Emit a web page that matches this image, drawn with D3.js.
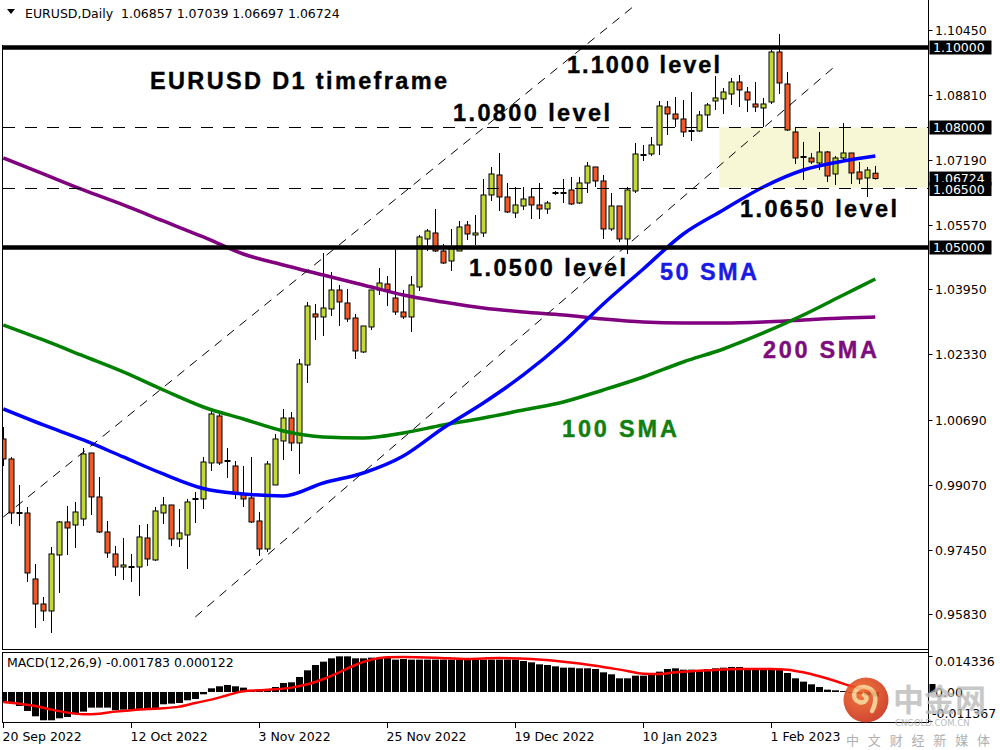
<!DOCTYPE html>
<html>
<head>
  <meta charset="utf-8">
  <script src="https://d3js.org/d3.v7.min.js"></script>
  <style>
    body { margin: 0; background: #fff; }
    svg { display: block; }
  </style>
</head>
<body>
  <div id="chart"></div>
</body>
</html>

<script>
  // ---- data (20 Sep 2022 .. 17 Feb 2023) ----
  var open = [1.00213,0.99713,0.98375,0.98363,0.96713,0.96088,0.95913,0.97313,0.98138,0.98063,
    0.98213,0.99863,0.98763,0.97888,0.97338,0.97013,0.97013,0.97013,0.97738,0.97188,
    0.98363,0.98563,0.97713,0.97813,0.98713,0.98713,0.99613,1.00788,0.99663,0.99538,
    0.98838,0.98738,0.98163,0.97463,0.99063,1.00163,1.00738,1.00113,1.02063,1.03338,
    1.03263,1.03463,1.03938,1.03613,1.03238,1.02388,1.03013,1.03938,1.04088,1.03738,
    1.03388,1.03263,1.04013,1.05213,1.05363,1.04913,1.04663,1.04913,1.05563,1.05313,
    1.05363,1.06313,1.06813,1.06263,1.05863,1.06038,1.06263,1.06063,1.05963,1.06363,
    1.06363,1.06438,1.06113,1.06613,1.07013,1.06663,1.05463,1.06038,1.05213,1.06413,
    1.07313,1.07338,1.07563,1.08513,1.08338,1.08213,1.07913,1.07913,1.08313,1.08663,
    1.08713,1.08838,1.09138,1.08888,1.08588,1.08488,1.08638,1.09888,1.09088,1.07888,
    1.07263,1.07238,1.07113,1.07388,1.06838,1.07238,1.07363,1.06888,1.06738,1.06857];
  var high = [1.00513,0.99763,0.99063,0.98513,0.97088,0.96263,0.97513,0.98163,0.98538,0.98638,
    0.99988,0.99863,0.99263,0.98163,0.97538,0.97738,0.97338,0.98063,0.98088,0.98513,
    0.98763,0.98563,0.98463,0.98713,0.98888,0.99763,1.00913,1.00913,0.99988,0.99663,
    0.99538,0.99763,0.98388,0.99663,1.00338,1.00963,1.00888,1.02213,1.03638,1.03588,
    1.04863,1.04388,1.04063,1.03963,1.03338,1.03038,1.03938,1.04488,1.04288,1.04988,
    1.03938,1.04288,1.05313,1.05463,1.05963,1.05088,1.05463,1.05663,1.05663,1.05813,
    1.06713,1.07013,1.07363,1.06613,1.06513,1.06513,1.06463,1.06613,1.06163,1.06413,
    1.06713,1.06763,1.06763,1.07138,1.07013,1.06813,1.06363,1.06038,1.06513,1.07613,
    1.07563,1.07763,1.08663,1.08663,1.08763,1.08688,1.08888,1.08413,1.08613,1.09288,
    1.08988,1.09238,1.09313,1.09013,1.09138,1.08738,1.09938,1.10338,1.09388,1.08013,
    1.07638,1.07363,1.07888,1.07413,1.07288,1.08113,1.07363,1.07138,1.07013,1.07039];
  var low = [0.99538,0.98088,0.98038,0.96638,0.95488,0.95663,0.95363,0.96363,0.97313,0.97488,
    0.98038,0.98313,0.97863,0.97238,0.96788,0.96688,0.96638,0.96288,0.97038,0.97163,
    0.98088,0.97538,0.97513,0.96963,0.98113,0.98463,0.99413,0.99563,0.99238,0.98713,
    0.98513,0.98113,0.97288,0.97388,0.99063,0.99688,0.99913,0.99338,1.01613,1.02688,
    1.02788,1.03288,1.03038,1.03138,1.02213,1.02363,1.02938,1.03813,1.03538,1.03313,
    1.03213,1.02888,1.03913,1.04913,1.04888,1.04588,1.04413,1.04913,1.05188,1.05063,
    1.05263,1.06163,1.05913,1.05863,1.05738,1.05938,1.05713,1.05713,1.05838,1.06313,
    1.06113,1.06063,1.06088,1.06363,1.06513,1.05213,1.05413,1.05138,1.04838,1.06363,
    1.07163,1.07288,1.07313,1.07813,1.08013,1.07763,1.07663,1.07888,1.08013,1.08438,
    1.08338,1.08563,1.08513,1.08388,1.08388,1.08013,1.08588,1.08838,1.07913,1.07088,
    1.06688,1.07088,1.06938,1.06638,1.06563,1.07188,1.06588,1.06588,1.06263,1.06697];
  var close = [0.99713,0.98363,0.98363,0.96863,0.96088,0.95913,0.97338,0.98138,0.97988,0.98388,
    0.99838,0.98763,0.97888,0.97363,0.97013,0.97063,0.97013,0.97763,0.97213,0.98413,
    0.98563,0.97713,0.97863,0.98638,0.98713,0.99638,1.00838,0.99613,0.99663,0.98838,
    0.98713,0.98138,0.97463,0.99588,1.00213,1.00738,1.00113,1.02088,1.03538,1.03263,
    1.03488,1.03938,1.03638,1.03213,1.02413,1.03038,1.03938,1.04113,1.03938,1.03388,
    1.03263,1.04063,1.05263,1.05413,1.04913,1.04613,1.05013,1.05513,1.05338,1.05363,
    1.06313,1.06838,1.06263,1.05888,1.06063,1.06213,1.06063,1.05963,1.06113,1.06363,
    1.06363,1.06088,1.06613,1.07038,1.06663,1.05463,1.06038,1.05213,1.06438,1.07338,
    1.07313,1.07563,1.08538,1.08338,1.08213,1.07888,1.07913,1.08313,1.08563,1.08738,
    1.08888,1.09138,1.08938,1.08688,1.08513,1.08588,1.09888,1.09113,1.07938,1.07238,
    1.07263,1.07138,1.07388,1.06788,1.07238,1.07363,1.06863,1.06713,1.06938,1.06724];

  // moving averages, read every 5 bars
  var maIndex = [0,5,10,15,20,25,30,35,40,45,50,55,60,65,70,75,80,85,90,95,100,105,109];
  var sma50  = [1.00963,1.00563,1.00188,0.99763,0.99338,0.98975,0.98838,0.98788,0.99113,0.99363,0.99788,1.00488,
    1.01113,1.01813,1.02638,1.03588,1.04463,1.05338,1.05938,1.06513,1.06938,1.07163,1.07288];
  var sma100 = [1.03063,1.02688,1.02288,1.01888,1.01438,1.01013,1.00713,1.00413,1.00263,1.00238,1.00363,1.00563,
    1.00738,1.00938,1.01138,1.01438,1.01763,1.02138,1.02463,1.02863,1.03313,1.03813,1.04213];
  var sma200 = [1.07238,1.06838,1.06438,1.06063,1.05663,1.05263,1.04838,1.04563,1.04313,1.04063,1.03813,1.03638,
    1.03488,1.03388,1.03313,1.03213,1.03138,1.03113,1.03113,1.03138,1.03188,1.03238,1.03263];

  // MACD(12,26,9) main values per bar and signal line samples
  var macd = [-0.00398,-0.00398,-0.00558,-0.00757,-0.00969,-0.01128,-0.01128,-0.01049,-0.00996,-0.00889,
    -0.00783,-0.00624,-0.00624,-0.00624,-0.00730,-0.00704,-0.00704,-0.00677,-0.00677,-0.00677,
    -0.00491,-0.00465,-0.00438,-0.00332,-0.00279,-0.00093,0.00146,0.00226,0.00279,0.00226,
    0.00173,0.00066,0.00066,0.00093,0.00199,0.00358,0.00385,0.00597,0.00863,0.01075,
    0.01208,0.01341,0.01420,0.01420,0.01341,0.01341,0.01367,0.01367,0.01367,0.01288,
    0.01314,0.01288,0.01288,0.01288,0.01288,0.01288,0.01288,0.01288,0.01288,0.01288,
    0.01288,0.01288,0.01288,0.01288,0.01288,0.01235,0.01181,0.01102,0.01075,0.01022,
    0.00969,0.00969,0.00943,0.00943,0.00916,0.00783,0.00704,0.00544,0.00544,0.00650,
    0.00650,0.00677,0.00810,0.00916,0.00943,0.00889,0.00889,0.00863,0.00916,0.00943,
    0.00969,0.00996,0.00996,0.00889,0.00943,0.00916,0.00916,0.00889,0.00757,0.00544,
    0.00412,0.00305,0.00199,0.00093,0.00066,0.00040,-0.00030,-0.00080,-0.00130,-0.00178];
  var signalIndex = [0,2,4,6,8,10,12,14,16,18,20,22,24,26,28,30,32,34,36,38,40,42,44,46,48,50,54,58,62,
    66,70,74,78,80,82,84,88,92,96,98,100,102,104,106,109];
  var signal = [-0.00398,-0.00465,-0.00558,-0.00704,-0.00823,-0.00889,-0.00863,-0.00783,-0.00730,-0.00677,
    -0.00650,-0.00584,-0.00438,-0.00305,-0.00133,0.00027,0.00066,0.00106,0.00173,0.00305,0.00518,0.00783,
    0.01075,0.01288,0.01381,0.01394,0.01367,0.01314,0.01350,0.01314,0.01208,0.01049,0.00836,0.00730,0.00717,
    0.00783,0.00863,0.00916,0.00916,0.00889,0.00783,0.00624,0.00438,0.00226,0.00012];

  // axis labels
  var priceTicks = [1.10450,1.08810,1.07190,1.05570,1.03950,1.02330,1.00690,0.99070,0.97450,0.95830];
  var dateIndex = [0,16,32,48,64,80,96];
  var dateLabels = ["20 Sep 2022","12 Oct 2022","3 Nov 2022","25 Nov 2022","19 Dec 2022","10 Jan 2023","1 Feb 2023"];

  // drawn objects: levels, zone, channel
  var levelsThick = [1.10000, 1.05000];
  var levelsDashed = [1.08000, 1.06500];
  var zone = {from: 89.5, top: 1.08000, bottom: 1.06500};
  var channel = [[[0, 0.98263],[79, 1.11063]], [[24, 0.95763],[104, 1.09538]]];
  var lastPrice = 1.06724;

  var W = 1000, H = 750;
  var axisX = 928.5;
  var svg = d3.select("#chart").append("svg")
    .attr("width", W).attr("height", H)
    .style("font-family", "'DejaVu Sans', Verdana, sans-serif");

  var x = d3.scaleLinear().domain([0, 109]).range([3.3, 875.3]);
  var y = d3.scaleLinear().domain([0.95830, 1.10450]).range([614.3, 29.5]);
  var ym = d3.scaleLinear().domain([-0.011367, 0.014336]).range([720.5, 656]);

  svg.append("defs").append("clipPath").attr("id", "clipMain")
    .append("rect").attr("x", 3).attr("y", 0).attr("width", axisX - 3).attr("height", 649);
  svg.select("defs").append("clipPath").attr("id", "clipMacd")
    .append("rect").attr("x", 3).attr("y", 653).attr("width", axisX - 3).attr("height", 69);

  var main = svg.append("g").attr("clip-path", "url(#clipMain)");

  // yellow zone between 1.0650 and 1.0800
  main.append("rect")
    .attr("x", x(zone.from)).attr("y", y(zone.top))
    .attr("width", axisX - x(zone.from)).attr("height", y(zone.bottom) - y(zone.top))
    .attr("fill", "#f8f7d5");

  // candles
  var idx = d3.range(open.length);
  var bull = "#c3d934", bear = "#f15a24";
  main.append("g").selectAll("line").data(idx).enter().append("line")
    .attr("x1", function(i){ return Math.round(x(i)) + 0.5; })
    .attr("x2", function(i){ return Math.round(x(i)) + 0.5; })
    .attr("y1", function(i){ return y(high[i]); })
    .attr("y2", function(i){ return y(low[i]); })
    .attr("stroke", "#000").attr("stroke-width", 1);
  main.append("g").selectAll("rect").data(idx.filter(function(i){ return Math.abs(open[i]-close[i]) > 0.0002; }))
    .enter().append("rect")
    .attr("x", function(i){ return Math.round(x(i)) - 2; })
    .attr("y", function(i){ return y(Math.max(open[i], close[i])); })
    .attr("width", 5)
    .attr("height", function(i){ return y(Math.min(open[i], close[i])) - y(Math.max(open[i], close[i])); })
    .attr("fill", function(i){ return close[i] >= open[i] ? bull : bear; })
    .attr("stroke", "#000").attr("stroke-width", 1);
  main.append("g").selectAll("line").data(idx.filter(function(i){ return Math.abs(open[i]-close[i]) <= 0.0002; }))
    .enter().append("line")
    .attr("x1", function(i){ return Math.round(x(i)) - 2.5; })
    .attr("x2", function(i){ return Math.round(x(i)) + 3.5; })
    .attr("y1", function(i){ return y(close[i]); })
    .attr("y2", function(i){ return y(close[i]); })
    .attr("stroke", "#000").attr("stroke-width", 2);

  // moving averages
  var maLine = d3.line()
    .x(function(d){ return x(d[0]); })
    .y(function(d){ return y(d[1]); })
    .curve(d3.curveMonotoneX);
  [[sma200, "#800080"], [sma100, "#008000"], [sma50, "#0000ff"]].forEach(function(m){
    main.append("path")
      .attr("d", maLine(maIndex.map(function(k, j){ return [k, m[0][j]]; })))
      .attr("fill", "none").attr("stroke", m[1]).attr("stroke-width", 3.5);
  });

  // channel lines
  channel.forEach(function(c){
    main.append("line")
      .attr("x1", x(c[0][0])).attr("y1", y(c[0][1]))
      .attr("x2", x(c[1][0])).attr("y2", y(c[1][1]))
      .attr("stroke", "#000").attr("stroke-width", 1).attr("stroke-dasharray", "9,7");
  });

  // horizontal levels
  levelsDashed.forEach(function(v){
    main.append("line").attr("x1", 3).attr("x2", axisX)
      .attr("y1", Math.round(y(v)) + 0.5).attr("y2", Math.round(y(v)) + 0.5)
      .attr("stroke", "#000").attr("stroke-width", 1).attr("stroke-dasharray", "12,10");
  });
  levelsThick.forEach(function(v){
    main.append("line").attr("x1", 3).attr("x2", axisX)
      .attr("y1", y(v)).attr("y2", y(v))
      .attr("stroke", "#000").attr("stroke-width", 4.5);
  });

  // annotations
  var notes = [
    ["EURUSD D1 timeframe", 150, 89, "#000", 297],
    ["1.1000 level", 567, 73, "#000", 153],
    ["1.0800 level", 453, 121, "#000", 157],
    ["1.0650 level", 740, 217, "#000", 157],
    ["1.0500 level", 469, 276, "#000", 157],
    ["50 SMA", 660, 280, "#1a1ae6", 97],
    ["200 SMA", 763, 358, "#7d0d7d", 114],
    ["100 SMA", 562, 437, "#118011", 115]
  ];
  svg.append("g").selectAll("text").data(notes).enter().append("text")
    .attr("x", function(d){ return d[1]; })
    .attr("y", function(d){ return d[2]; })
    .attr("textLength", function(d){ return d[4]; })
    .attr("lengthAdjust", "spacing")
    .attr("fill", function(d){ return d[3]; })
    .attr("stroke", function(d){ return d[3]; })
    .attr("stroke-width", 0.4)
    .style("font-family", "'Liberation Sans', Arial, sans-serif")
    .style("font-weight", "bold").style("font-size", "23.5px")
    .text(function(d){ return d[0]; });

  // frames
  svg.append("line").attr("x1", 2.5).attr("x2", 2.5).attr("y1", 45).attr("y2", 650).attr("stroke", "#000");
  svg.append("line").attr("x1", 2).attr("x2", axisX).attr("y1", 649.5).attr("y2", 649.5).attr("stroke", "#000");
  svg.append("line").attr("x1", axisX).attr("x2", axisX).attr("y1", 0).attr("y2", 723).attr("stroke", "#000");

  // price axis
  var pAxis = svg.append("g");
  priceTicks.forEach(function(v){
    var yy = Math.round(y(v)) + 0.5;
    pAxis.append("line").attr("x1", axisX).attr("x2", axisX + 4).attr("y1", yy).attr("y2", yy).attr("stroke", "#000");
    pAxis.append("text").attr("x", 935).attr("y", yy + 4.5).style("font-size", "12.5px").attr("fill", "#000").text(v.toFixed(5));
  });
  function priceBox(v, yy) {
    pAxis.append("rect").attr("x", axisX + 1).attr("y", yy - 7).attr("width", 62).attr("height", 14).attr("fill", "#000");
    pAxis.append("text").attr("x", 933).attr("y", yy + 4.5).style("font-size", "12.5px").attr("fill", "#fff").text(v.toFixed(5));
  }
  priceBox(1.10000, y(1.10000));
  priceBox(1.08000, y(1.08000));
  priceBox(lastPrice, y(lastPrice));
  priceBox(1.06500, y(1.06500) + 1.5);
  priceBox(1.05000, y(1.05000));

  // title
  svg.append("path").attr("d", "M7,9 L15,9 L11,14 Z").attr("fill", "#000");
  svg.append("text").attr("x", 25).attr("y", 18).style("font-size", "12.5px")
    .text("EURUSD,Daily  1.06857 1.07039 1.06697 1.06724").attr("xml:space", "preserve");

  // ---- MACD panel ----
  svg.append("rect").attr("x", 2.5).attr("y", 652.5).attr("width", axisX - 2.5).attr("height", 70)
    .attr("fill", "none").attr("stroke", "#000");
  var mg = svg.append("g").attr("clip-path", "url(#clipMacd)");
  mg.append("g").selectAll("rect").data(idx).enter().append("rect")
    .attr("x", function(i){ return Math.round(x(i)) - 3; })
    .attr("width", 7)
    .attr("y", function(i){ return Math.min(ym(0), ym(macd[i])); })
    .attr("height", function(i){ return Math.max(1, Math.abs(ym(macd[i]) - ym(0))); })
    .attr("fill", "#000");
  var sigLine = d3.line()
    .x(function(d){ return x(d[0]); })
    .y(function(d){ return ym(d[1]); })
    .curve(d3.curveMonotoneX);
  mg.append("path").attr("d", sigLine(signalIndex.map(function(k, j){ return [k, signal[j]]; })))
    .attr("fill", "none").attr("stroke", "#ff0000").attr("stroke-width", 2.5);
  svg.append("text").attr("x", 7).attr("y", 667).style("font-size", "12.5px")
    .text("MACD(12,26,9) -0.001783 0.000122");

  var mAxis = svg.append("g");
  [[0.014336, "0.014336", 661.5], [0, "0.00", 692], [-0.011367, "-0.011367", 713]].forEach(function(t){
    var yy = Math.round(ym(t[0])) + 0.5;
    mAxis.append("line").attr("x1", axisX).attr("x2", axisX + 4).attr("y1", yy).attr("y2", yy).attr("stroke", "#000");
    mAxis.append("text").attr("x", t[0] < 0 ? 932 : 935).attr("y", t[2] + 4.5).style("font-size", "12.5px").text(t[1]);
  });
  mAxis.append("rect").attr("x", axisX + 1).attr("y", 684).attr("width", 6).attr("height", 8).attr("fill", "#000");

  // date axis
  var dAxis = svg.append("g");
  dateIndex.forEach(function(k, j){
    var xx = Math.round(x(k)) + 0.5;
    dAxis.append("line").attr("x1", xx).attr("x2", xx).attr("y1", 723).attr("y2", 728).attr("stroke", "#000");
    dAxis.append("text").attr("x", xx - 1).attr("y", 741).style("font-size", "12.5px").text(dateLabels[j]);
  });

  // watermark
  var wm = svg.append("g").attr("opacity", 0.9);
  var grad = svg.select("defs").append("radialGradient").attr("id", "wmGrad")
    .attr("cx", "40%").attr("cy", "35%").attr("r", "70%");
  grad.append("stop").attr("offset", "0%").attr("stop-color", "#f26a2a");
  grad.append("stop").attr("offset", "100%").attr("stop-color", "#c9301c");
  wm.append("circle").attr("cx", 866).attr("cy", 700).attr("r", 22.5).attr("fill", "url(#wmGrad)");
  wm.append("path").attr("d", "M872,711 C878,700 876,688 864,687 C853,687 851,699 859,702 C866,704 869,697 864,695")
    .attr("fill", "none").attr("stroke", "#f6c98a").attr("stroke-width", 4.5).attr("stroke-linecap", "round");
  wm.append("text").attr("x", 893).attr("y", 711).style("font-family", "'Noto Sans CJK SC', sans-serif")
    .style("font-size", "31px").style("font-weight", "bold").attr("fill", "#b9b9b9").attr("opacity", 0.85).text("中金网");
  wm.append("text").attr("x", 895).attr("y", 726).style("font-family", "'DejaVu Sans', sans-serif")
    .style("font-size", "8.5px").attr("fill", "#b5b5b5").text("CNGOLD.COM.CN");
  wm.append("text").attr("x", 846).attr("y", 745).style("font-family", "'Noto Sans CJK SC', sans-serif")
    .style("font-size", "13px").attr("fill", "#a8a8a8").attr("textLength", 144).attr("lengthAdjust", "spacing")
    .text("中文财经新媒体");
</script>
